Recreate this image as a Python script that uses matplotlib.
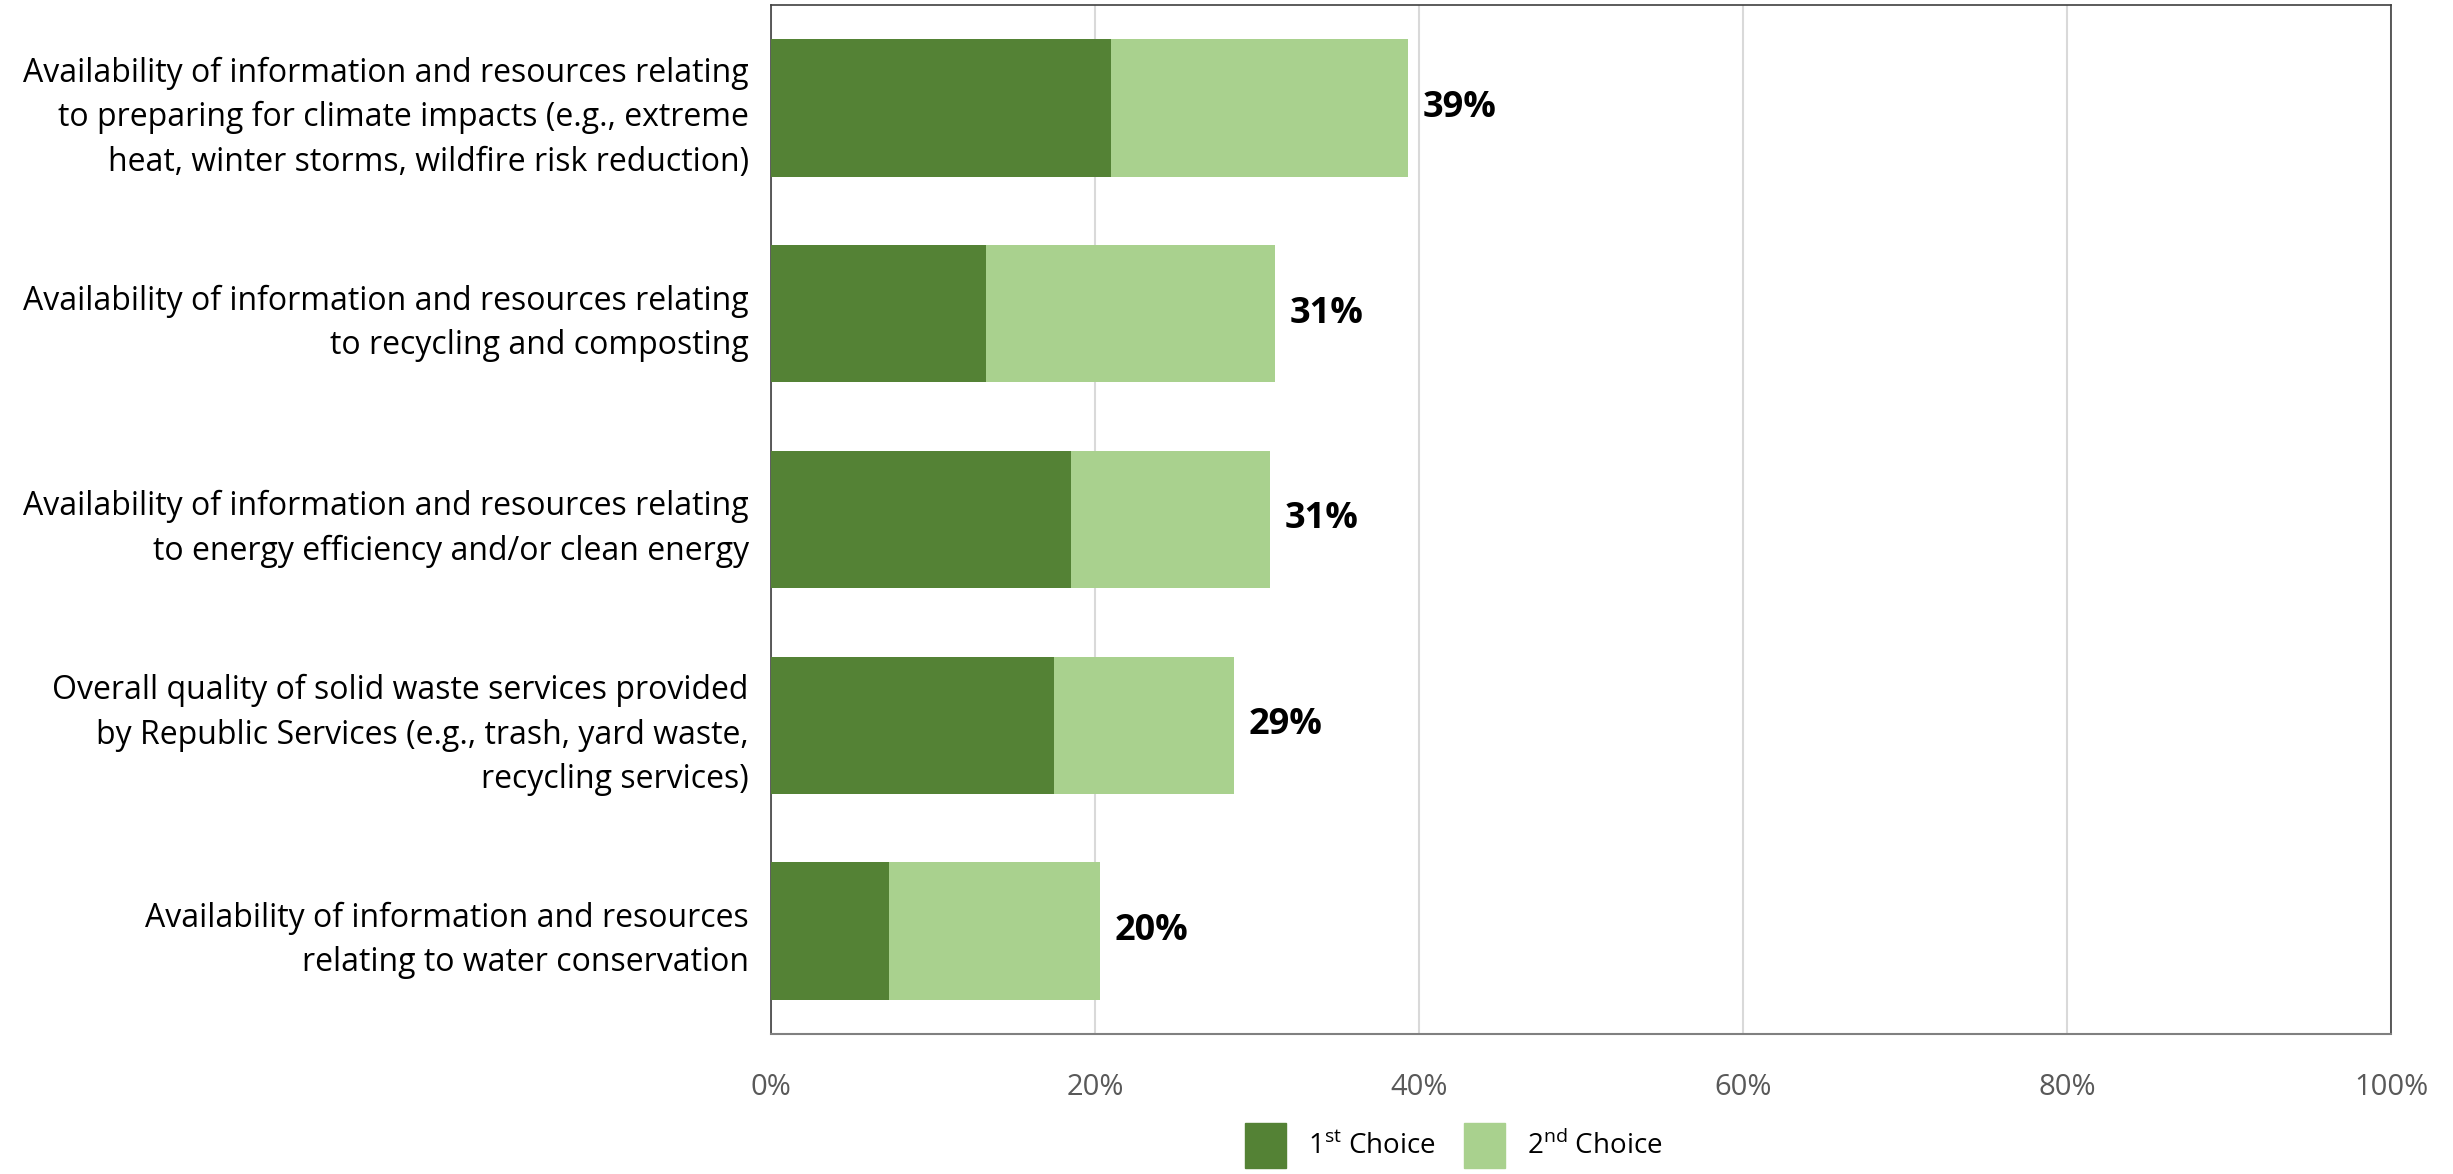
import numpy as np
import matplotlib.pyplot as plt
from matplotlib.patches import Patch

plt.rcParams['font.family'] = ['Open Sans', 'DejaVu Sans']
plt.rcParams['mathtext.fontset'] = 'custom'
plt.rcParams['mathtext.rm'] = 'Open Sans'

kategorije = [
    "Availability of information and resources relating\nto preparing for climate impacts (e.g., extreme\nheat, winter storms, wildfire risk reduction)",
    "Availability of information and resources relating\nto recycling and composting",
    "Availability of information and resources relating\nto energy efficiency and/or clean energy",
    "Overall quality of solid waste services provided\nby Republic Services (e.g., trash, yard waste,\nrecycling services)",
    "Availability of information and resources\nrelating to water conservation",
]
prvi_izbor = [21.0, 13.3, 18.5, 17.5, 7.3]
drugi_izbor = [18.3, 17.8, 12.3, 11.1, 13.0]
ukupno = [39, 31, 31, 29, 20]
x_tikovi = [0, 20, 40, 60, 80, 100]

boja_1 = '#548235'
boja_2 = '#A9D18E'

f, ax = plt.subplots(figsize=(24.53, 11.74), dpi=100)
f.subplots_adjust(left=0.3143, right=0.9747, bottom=0.1193, top=0.9957)

y = np.arange(len(kategorije))
ax.barh(y, prvi_izbor, height=0.667, color=boja_1, zorder=3)
ax.barh(y, drugi_izbor, left=prvi_izbor, height=0.667, color=boja_2, zorder=3)

for i in range(len(kategorije)):
    kraj = prvi_izbor[i] + drugi_izbor[i]
    ax.text(kraj + 0.9, y[i], str(ukupno[i]) + '%', va='center', ha='left',
            fontsize=26, fontweight='bold', color='black')

ax.set_xlim(0, 100)
ax.set_ylim(len(kategorije) - 0.5, -0.5)
ax.set_xticks(x_tikovi)
ax.set_xticklabels([str(t) + '%' for t in x_tikovi])
ax.set_yticks(y)
ax.set_yticklabels(kategorije, fontsize=23, linespacing=1.45)
ax.tick_params(axis='x', labelsize=21, labelcolor='#595959', length=0, pad=28)
ax.tick_params(axis='y', length=0, pad=16)
ax.grid(axis='x', color='#D9D9D9', linewidth=1.5, zorder=0)

for s in ['top', 'right', 'left']:
    ax.spines[s].set_color('#404040')
    ax.spines[s].set_linewidth(1.2)
ax.spines['bottom'].set_color('#808080')
ax.spines['bottom'].set_linewidth(1.5)

ruke = [Patch(color=boja_1, label=r'1$^{\mathrm{st}}$ Choice'),
        Patch(color=boja_2, label=r'2$^{\mathrm{nd}}$ Choice')]
f.legend(handles=ruke, loc='upper left', bbox_to_anchor=(0.5076, 0.0434), ncol=2,
         frameon=False, fontsize=20, handlelength=1.47, handleheight=2.1,
         handletextpad=0.8, columnspacing=1.0, borderpad=0, borderaxespad=0)

plt.savefig('out.png', dpi=100)
